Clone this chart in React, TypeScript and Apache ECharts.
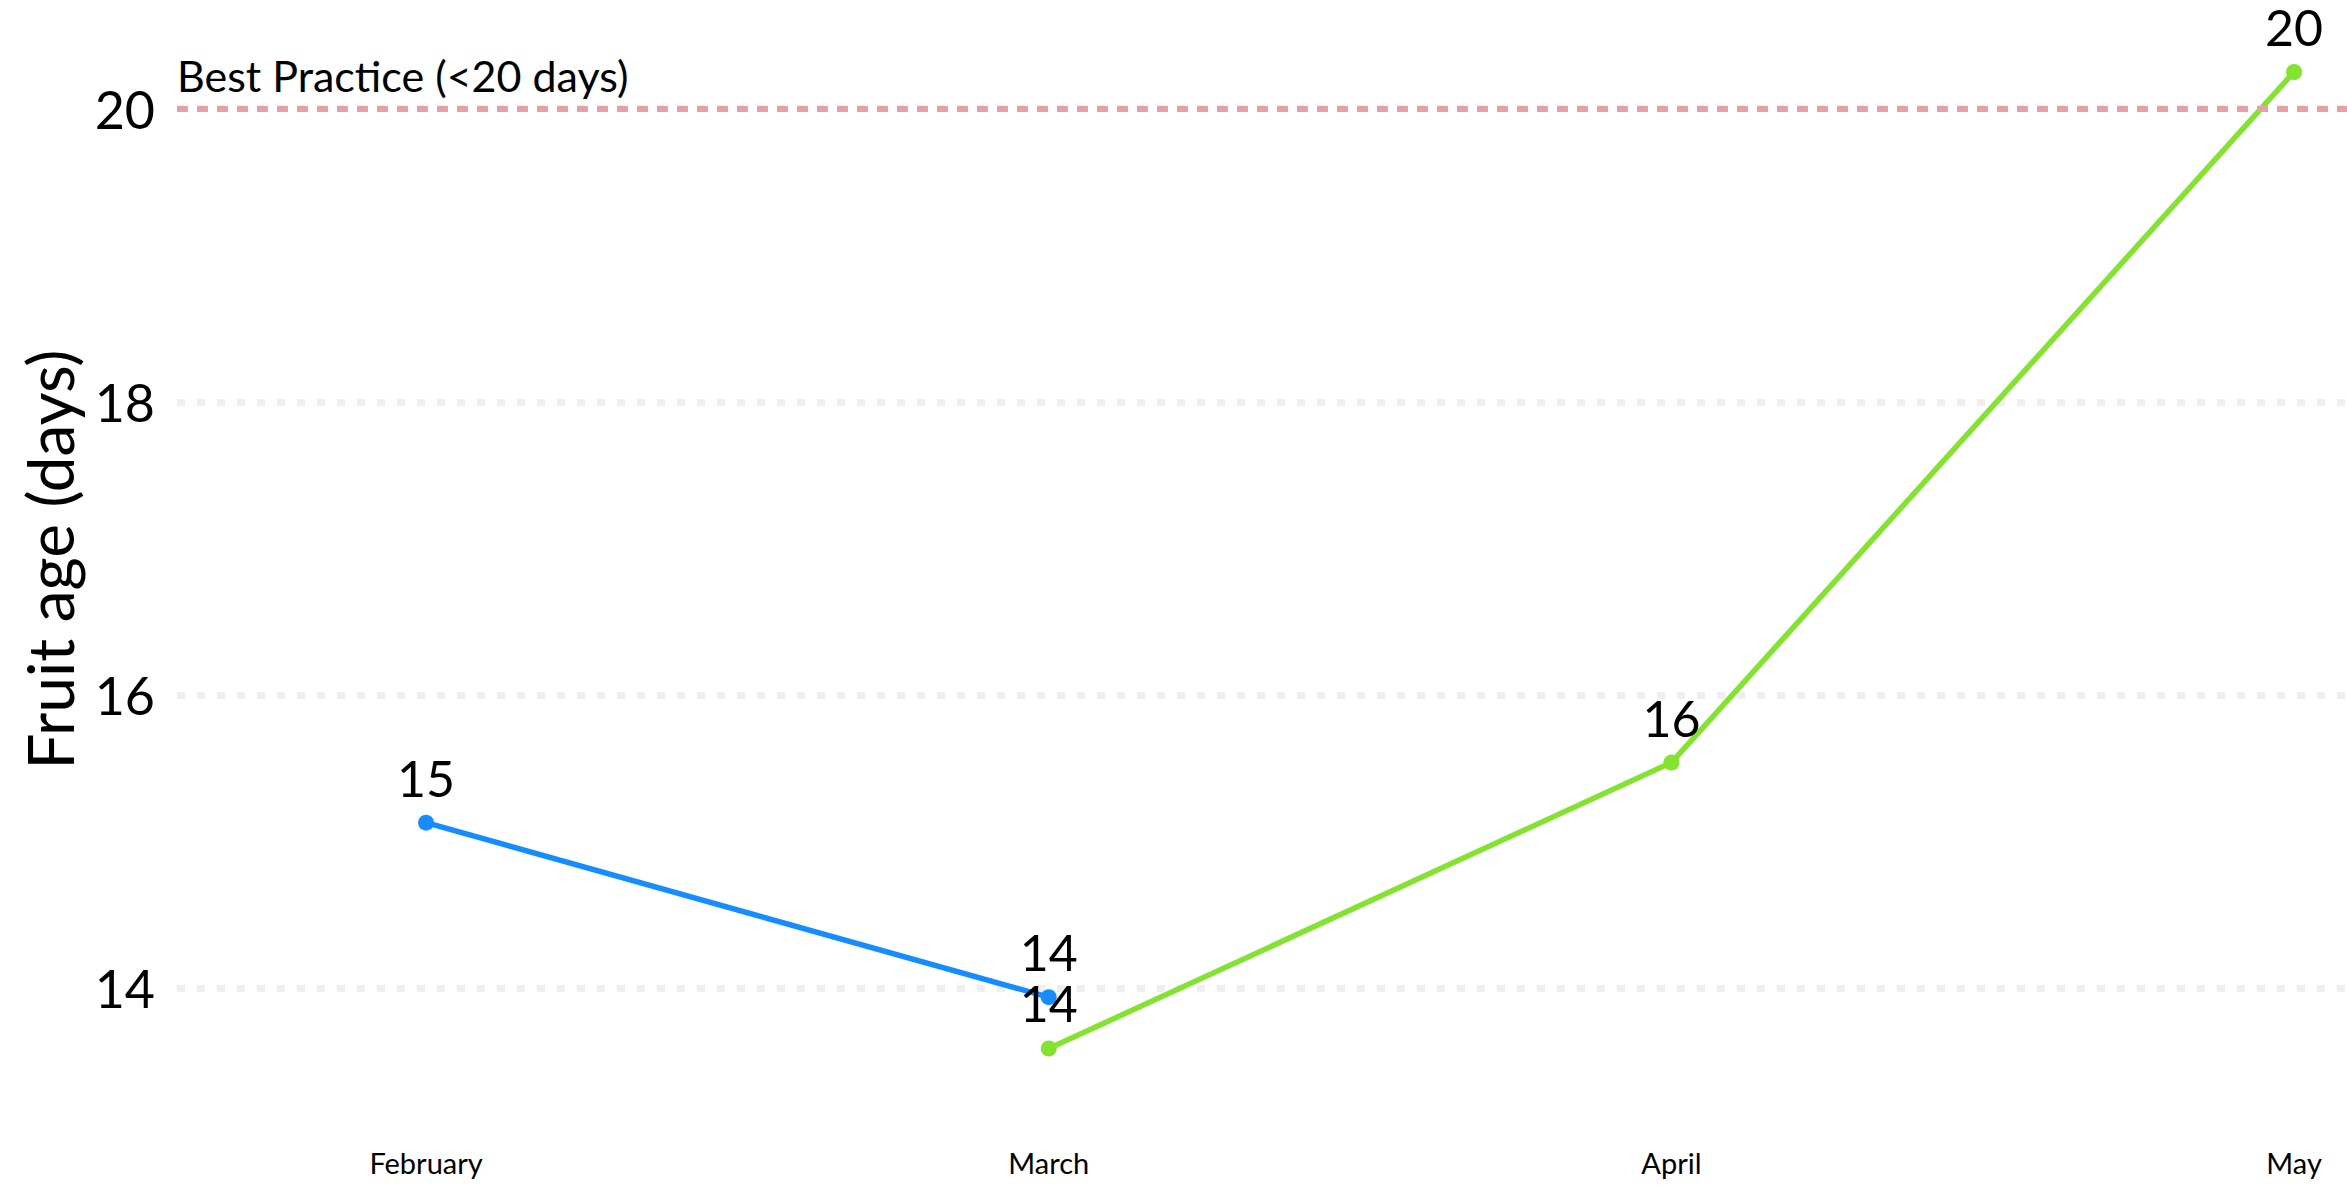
import React, { useEffect, useRef } from "react";
import * as echarts from "echarts";

const months: string[] = ["February", "March", "April", "May"];
const blueSeries: [number, number][] = [
  [0, 15.13],
  [1, 13.94],
];
const greenSeries: [number, number][] = [
  [1, 13.59],
  [2, 15.54],
  [3, 20.25],
];
const yTicks: number[] = [14, 16, 18, 20];
const xTicks: number[] = [0, 1, 2, 3];
const bestPractice = 20;
const bestPracticeLabel = "Best Practice (<20 days)";
const yTitle = "Fruit age (days)";

const FONT = "Lato";

export default function App() {
  const ref = useRef<HTMLDivElement>(null);
  useEffect(() => {
    if (!ref.current) return;
    const chart = echarts.init(ref.current, undefined, { renderer: "svg" });
    const label = {
      show: true,
      position: "top",
      distance: 12,
      fontFamily: FONT,
      fontSize: 50,
      color: "#000",
      formatter: (p: any) => String(Math.round(p.value[1])),
    };
    chart.setOption({
      animation: false,
      backgroundColor: "#fff",
      grid: { left: 177, right: 0, top: 28, bottom: 95 },
      xAxis: {
        type: "value",
        min: -0.4,
        max: 3.085,
        axisLine: { show: false },
        axisTick: { show: false, customValues: xTicks },
        splitLine: { show: false },
        axisLabel: {
          customValues: xTicks,
          formatter: (v: number) => months[Math.round(v)] ?? "",
          fontFamily: FONT,
          fontSize: 29,
          color: "#000",
          margin: 57,
        },
      },
      yAxis: {
        type: "value",
        min: 13.3,
        max: 20.55,
        name: yTitle,
        nameLocation: "middle",
        nameGap: 96,
        nameTextStyle: { fontFamily: FONT, fontSize: 64, color: "#000" },
        axisLine: { show: false },
        axisTick: { show: false, customValues: yTicks },
        axisLabel: {
          customValues: yTicks,
          fontFamily: FONT,
          fontSize: 52,
          color: "#000",
          margin: 22,
        },
        splitLine: {
          show: true,
          lineStyle: { color: "#efefef", width: 7, type: [8, 12] },
        },
      },
      series: [
        {
          type: "line",
          data: blueSeries,
          symbol: "circle",
          symbolSize: 16,
          lineStyle: { color: "#158cff", width: 5.5 },
          itemStyle: { color: "#158cff" },
          label,
          markLine: {
            silent: true,
            symbol: ["none", "none"],
            lineStyle: { color: "#e8a0a6", width: 6, type: [11, 9] },
            label: {
              show: true,
              position: "insideStartTop",
              formatter: bestPracticeLabel,
              fontFamily: FONT,
              fontSize: 43,
              color: "#000",
              distance: [0, 12],
            },
            data: [{ yAxis: bestPractice }],
          },
        },
        {
          type: "line",
          data: greenSeries,
          symbol: "circle",
          symbolSize: 16,
          lineStyle: { color: "#84e330", width: 5.5 },
          itemStyle: { color: "#84e330" },
          label,
        },
      ],
    });
    return () => chart.dispose();
  }, []);
  return (
    <div
      ref={ref}
      style={{ position: "fixed", left: 0, top: 0, width: 2347, height: 1186 }}
    />
  );
}
